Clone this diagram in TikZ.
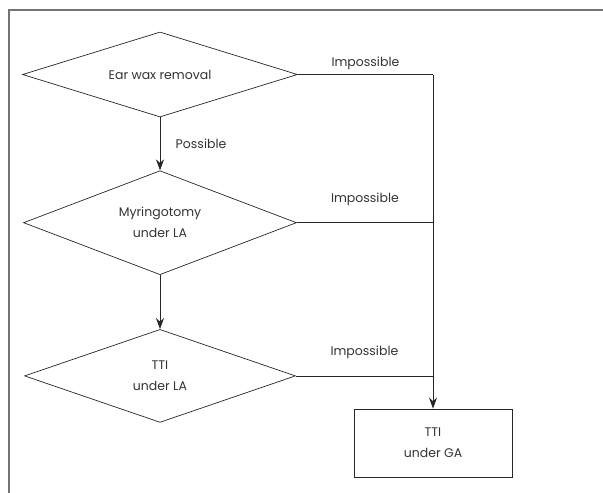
\documentclass[tikz,border=0pt]{standalone}
\usepackage{fontspec}
\setmainfont{Poppins}
\usetikzlibrary{shapes.geometric,arrows.meta,positioning,calc}

\tikzset{
    decision/.style={draw=black!85,diamond,aspect=3,inner sep=0pt,align=center,line width=0.7pt},
    outcome/.style={draw=black!85,rectangle,inner sep=0pt,align=center,line width=0.8pt,minimum width=158pt,minimum height=68pt},
    flow/.style={draw=black!85,line width=0.8pt,-{Stealth[length=11pt,width=8pt]}},
    link/.style={draw=black!85,line width=0.8pt},
    lbl/.style={text=black!80,font=\fontsize{12.5}{15}\selectfont}
}

\begin{document}
\begin{tikzpicture}[x=1pt,y=-1pt,every node/.style={text=black!80,font=\fontsize{12.5}{21}\selectfont}]
        %\draw [help lines] (0,0) grid (603,493);
        \useasboundingbox (0,0) rectangle (603,493);
        \draw[black!55,line width=1.6pt] (9,493) -- (9,10) -- (603,10);

        \node[decision,minimum width=275pt,minimum height=85pt] (wax) at (160,74.5) {Ear wax removal};
        \node[decision,minimum width=273pt,minimum height=104pt,below = 53pt of wax] (myr) {Myringotomy\\under LA};
        \node[decision,minimum width=271pt,minimum height=93pt,below = 54pt of myr] (ttila) {TTI\\under LA};

        \node[outcome] (ttiga) at (433,443) {TTI\\under GA};

        \coordinate (c1) at (wax.east -| ttiga.north);
        \coordinate (c2) at (myr.east -| ttiga.north);
        \coordinate (c3) at (ttila.east -| ttiga.north);

        \draw[flow] (wax.south) -- node[right=12pt,lbl] {Possible} (myr.north);
        \draw[flow] (myr.south) -- (ttila.north);

        \draw[link] (wax.east) -- node[above=1pt,lbl] {Impossible} (c1);
        \draw[flow] (c1) -- (ttiga.north);
        \draw[link] (myr.east) -- node[above=13pt,lbl] {Impossible} (c2);
        \draw[link] (ttila.east) -- node[above=13pt,lbl] {Impossible} (c3);
    \end{tikzpicture}
\end{document}
